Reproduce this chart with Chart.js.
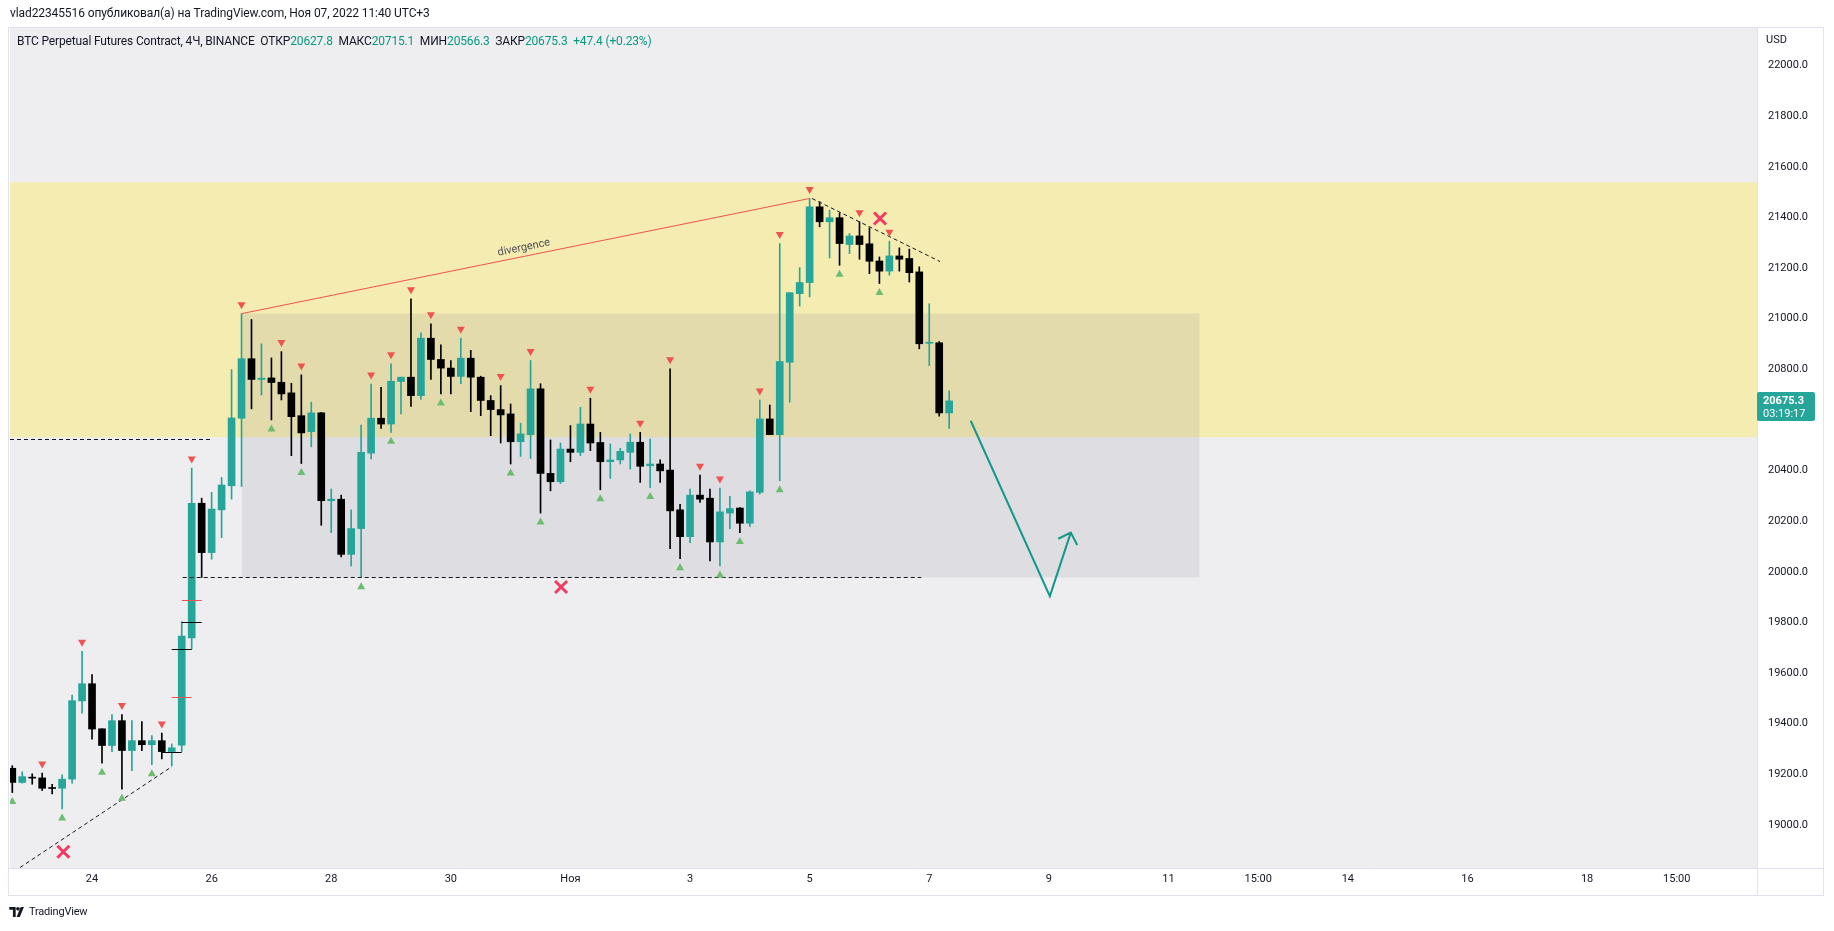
<!DOCTYPE html>
<html><head><meta charset="utf-8">
<script src="https://cdn.jsdelivr.net/npm/chart.js@4.4.0/dist/chart.umd.min.js"></script>
<style>
body{margin:0;background:#fff;font-family:Roboto,"Liberation Sans",sans-serif;}
#wrap{position:relative;width:1834px;height:931px;overflow:hidden}
canvas{position:absolute;left:0;top:0}
.t{position:absolute;white-space:pre;color:#131722;font-size:12px;line-height:14px}
.g{color:#089981}
#logo{display:flex;align-items:center;gap:3px;font-size:11px;letter-spacing:-0.2px}
</style></head><body>
<div id="wrap">
<canvas id="c" width="1834" height="931"></canvas>
<div class="t" style="left:10px;top:6px;letter-spacing:-0.1px">vlad22345516 опубликовал(а) на TradingView.com, Ноя 07, 2022 11:40 UTC+3</div>
<div class="t" id="hdr" style="left:17px;top:34px;letter-spacing:-0.15px"></div>
<div class="t" style="left:1766px;top:33px;font-size:11px">USD</div>
<div class="t" id="logo" style="left:9px;top:905px">
<svg width="17" height="11" viewBox="0 0 18 12"><path d="M0 0H7V11H4V3H0Z" fill="#131722"/><circle cx="9.5" cy="2" r="2" fill="#131722"/><path d="M8 11L12.5 0H16L11.5 11Z" fill="#131722"/></svg><span>TradingView</span></div>
</div>
<script>
// ---- candles (4h bars), index 0..94 ----
const open  = [19224,19168,19187,19186,19145,19145,19181,19490,19558,19380,19314,19412,19294,19333,19317,19333,19290,19315,19739,20271,
               20076,20245,20340,20607,20842,20760,20766,20749,20707,20617,20554,20628,20281,20287,20069,20171,20469,20607,20584,20752,
               20769,20696,20923,20839,20805,20772,20844,20769,20677,20641,20624,20514,20542,20723,20389,20356,20485,20472,20584,20511,
               20435,20442,20472,20512,20419,20426,20402,20245,20139,20303,20291,20118,20232,20252,20192,20314,20604,20542,20828,21099,
               21143,21442,21383,21399,21293,21327,21296,21228,21188,21248,21238,21185,20903,20905,20627.8];
const high  = [19234,19210,19202,19205,19161,19198,19513,19686,19594,19380,19436,19436,19412,19408,19353,19363,19320,19803,20410,20291,
               20314,20373,20799,21020,20997,20901,20845,20870,20745,20778,20670,20630,20327,20303,20245,20580,20742,20729,20822,20769,
               21079,20944,20980,20897,20835,20923,20875,20773,20696,20736,20663,20587,20835,20743,20521,20509,20578,20650,20686,20551,
               20505,20488,20545,20551,20525,20443,20802,20267,20327,20382,20327,20331,20298,20254,20320,20679,20659,21297,21103,21202,
               21475,21462,21429,21418,21337,21383,21359,21244,21306,21280,21275,21205,21059,20910,20715.1];
const low   = [19128,19165,19161,19136,19123,19063,19165,19442,19339,19244,19290,19141,19215,19294,19238,19261,19234,19290,19696,19978,
               20050,20135,20287,20337,20644,20699,20600,20679,20459,20428,20494,20184,20155,20059,20023,19977,20446,20567,20551,20624,
               20654,20681,20760,20703,20703,20743,20633,20617,20538,20509,20426,20456,20448,20232,20320,20349,20435,20459,20479,20324,
               20369,20426,20406,20353,20333,20353,20092,20052,20115,20274,20043,20023,20171,20155,20179,20307,20542,20360,20670,21050,
               21086,21363,21240,21211,21257,21235,21178,21139,21172,21188,21145,20881,20815,20615,20566.3];
const close = [19168,19191,19185,19145,19144,19181,19491,19558,19379,19314,19412,19294,19333,19317,19333,19290,19305,19746,20271,20076,
               20248,20343,20608,20842,20760,20765,20748,20703,20613,20549,20628,20281,20287,20069,20171,20472,20607,20584,20753,20769,
               20696,20923,20839,20805,20772,20844,20769,20677,20641,20620,20514,20545,20723,20389,20356,20485,20472,20584,20509,20435,
               20442,20476,20512,20417,20426,20399,20241,20139,20303,20287,20118,20237,20250,20192,20316,20604,20542,20831,21103,21143,
               21442,21383,21399,21297,21327,21293,21227,21188,21248,21235,21182,20901,20905,20627.9,20675.3];

// pivot markers (indicator): bar indices
const pivotHighIdx = [3,7,11,15,18,23,27,29,36,38,40,42,45,49,52,58,63,66,69,71,75,77,80,85,88];
const pivotLowIdx  = [0,5,9,11,14,26,29,35,38,43,50,53,59,64,67,71,73,77,83,87];

// axis ticks
const xTickIdx    = [8,20,32,44,56,68,80,92,104,116,125,134,146,158,167];
const xTickLabels = ['24','26','28','30','Ноя','3','5','7','9','11','15:00','14','16','18','15:00'];
const yTicks = [19000,19200,19400,19600,19800,20000,20200,20400,20800,21000,21200,21400,21600,21800,22000];

// drawings (bar index, price)
const supplyZone = [20532, 21539];
const rangeBoxX = [23.05, 119.1];
const rangeBoxY = [19978, 21020];
const dashedLines = [
  [[-0.23,20525],[20.1,20525]],
  [[17.1,19978],[91.2,19978]],
  [[0.78,18834],[16.03,19234]],
  [[80.24,21478],[93.08,21229]]
];
const divergenceLine = [[23,21020],[80,21475]];
const crossMarks = [[5.12,18894],[55.06,19940],[87.06,21396]];
const arrowPath = [[96.16,20597],[104.1,19904],[106.2,20155]];
const blackTicks = [[15,17,19290],[16,18,19696],[17,19,19803]];
const redTicks = [[16,18,19506],[17,19,19890]];
const countdown = '03:19:17';

const TEAL = '#26a69a', BLACK = '#000000';
const idx = open.map((_, i) => i);
const colors = idx.map(i => close[i] >= open[i] ? TEAL : BLACK);

// header
const last = open.length - 1;
const chg = close[last] - close[last-1];
document.getElementById('hdr').innerHTML =
  'BTC Perpetual Futures Contract, 4Ч, BINANCE  ОТКР<span class="g">' + open[last].toFixed(1) +
  '</span>  МАКС<span class="g">' + high[last].toFixed(1) + '</span>  МИН<span class="g">' + low[last].toFixed(1) +
  '</span>  ЗАКР<span class="g">' + close[last].toFixed(1) + '</span>  <span class="g">' +
  (chg >= 0 ? '+' : '') + chg.toFixed(1) + ' (' + (chg >= 0 ? '+' : '') + (chg / close[last-1] * 100).toFixed(2) + '%)</span>';

const PLOT_BG = '#eeeef1';
const FRAME = '#e0e3eb';

const overlay = {
  id: 'overlay',
  beforeDraw(chart) {
    const {ctx, chartArea: a} = chart;
    ctx.save();
    ctx.fillStyle = '#ffffff'; ctx.fillRect(0, 0, chart.width, chart.height);
    ctx.strokeStyle = FRAME; ctx.lineWidth = 1;
    ctx.strokeRect(8.5, a.top - 0.5, 1815, 895 - a.top + 1);
    ctx.fillStyle = PLOT_BG; ctx.fillRect(a.left, a.top, a.right - a.left, a.bottom - a.top);
    ctx.restore();
  },
  beforeDatasetsDraw(chart) {
    const {ctx, chartArea: a, scales: {x, y}} = chart;
    ctx.save();
    ctx.beginPath(); ctx.rect(a.left, a.top, a.right - a.left, a.bottom - a.top); ctx.clip();
    const yt = y.getPixelForValue(supplyZone[1]), yb = y.getPixelForValue(supplyZone[0]);
    ctx.fillStyle = '#f5ecb1'; ctx.fillRect(a.left, yt, a.right - a.left, yb - yt);
    const bx0 = x.getPixelForValue(rangeBoxX[0]), bx1 = x.getPixelForValue(rangeBoxX[1]);
    const by0 = y.getPixelForValue(rangeBoxY[1]), by1 = y.getPixelForValue(rangeBoxY[0]);
    ctx.fillStyle = 'rgba(120,123,134,0.14)'; ctx.fillRect(bx0, by0, bx1 - bx0, by1 - by0);
    ctx.restore();
  },
  afterDatasetsDraw(chart) {
    const {ctx, chartArea: a, scales: {x, y}} = chart;
    const P = p => [x.getPixelForValue(p[0]), y.getPixelForValue(p[1])];
    ctx.save();
    ctx.beginPath(); ctx.rect(a.left, a.top, a.right - a.left, a.bottom - a.top); ctx.clip();
    // indicator tick segments
    ctx.lineWidth = 1;
    [[blackTicks, '#000'], [redTicks, '#ef5350']].forEach(([arr, col]) => {
      ctx.strokeStyle = col;
      arr.forEach(([i0, i1, v]) => {
        const yy = Math.round(y.getPixelForValue(v)) + 0.5;
        ctx.beginPath(); ctx.moveTo(x.getPixelForValue(i0), yy); ctx.lineTo(x.getPixelForValue(i1), yy); ctx.stroke();
      });
    });
    // dashed lines
    ctx.strokeStyle = '#131722'; ctx.setLineDash([4, 3]);
    dashedLines.forEach(([p0, p1]) => {
      const A = P(p0), B = P(p1);
      ctx.beginPath(); ctx.moveTo(A[0], Math.round(A[1]) + 0.5); ctx.lineTo(B[0], Math.round(B[1]) + 0.5); ctx.stroke();
    });
    ctx.setLineDash([]);
    // divergence
    const D0 = P(divergenceLine[0]), D1 = P(divergenceLine[1]);
    ctx.strokeStyle = '#ef5350'; ctx.lineWidth = 1;
    ctx.beginPath(); ctx.moveTo(D0[0], D0[1]); ctx.lineTo(D1[0], D1[1]); ctx.stroke();
    const ang = Math.atan2(D1[1] - D0[1], D1[0] - D0[0]);
    ctx.save();
    ctx.translate((D0[0] + D1[0]) / 2, (D0[1] + D1[1]) / 2);
    ctx.rotate(ang);
    ctx.fillStyle = '#4c4f57'; ctx.font = '11px Roboto'; ctx.textAlign = 'center'; ctx.textBaseline = 'bottom';
    ctx.fillText('divergence', 0, -3);
    ctx.restore();
    // pivot triangles
    ctx.fillStyle = '#ef5350';
    pivotHighIdx.forEach(i => {
      const cx = x.getPixelForValue(i), cy = y.getPixelForValue(high[i]) - 8;
      ctx.beginPath(); ctx.moveTo(cx - 4, cy - 3.5); ctx.lineTo(cx + 4, cy - 3.5); ctx.lineTo(cx, cy + 3.5); ctx.closePath(); ctx.fill();
    });
    ctx.fillStyle = '#6cbd70';
    pivotLowIdx.forEach(i => {
      const cx = x.getPixelForValue(i), cy = y.getPixelForValue(low[i]) + 8;
      ctx.beginPath(); ctx.moveTo(cx - 4, cy + 3.5); ctx.lineTo(cx + 4, cy + 3.5); ctx.lineTo(cx, cy - 3.5); ctx.closePath(); ctx.fill();
    });
    // crosses
    ctx.strokeStyle = '#f23a62'; ctx.lineWidth = 3; ctx.lineCap = 'butt';
    crossMarks.forEach(p => {
      const [cx, cy] = P(p), r = 6;
      ctx.beginPath(); ctx.moveTo(cx - r, cy - r); ctx.lineTo(cx + r, cy + r);
      ctx.moveTo(cx + r, cy - r); ctx.lineTo(cx - r, cy + r); ctx.stroke();
    });
    // arrow
    ctx.strokeStyle = '#12998a'; ctx.lineWidth = 2; ctx.lineJoin = 'miter';
    const pts = arrowPath.map(P);
    ctx.beginPath(); ctx.moveTo(pts[0][0], pts[0][1]);
    pts.slice(1).forEach(p => ctx.lineTo(p[0], p[1])); ctx.stroke();
    const t = pts[pts.length - 1], s = pts[pts.length - 2];
    const back = Math.atan2(s[1] - t[1], s[0] - t[0]);
    ctx.beginPath();
    ctx.moveTo(t[0] + 14 * Math.cos(back - 0.8), t[1] + 14 * Math.sin(back - 0.8));
    ctx.lineTo(t[0], t[1]);
    ctx.lineTo(t[0] + 14 * Math.cos(back + 0.8), t[1] + 14 * Math.sin(back + 0.8));
    ctx.stroke();
    ctx.restore();
  },
  afterDraw(chart) {
    const {ctx, chartArea: a, scales: {y}} = chart;
    ctx.save();
    ctx.strokeStyle = FRAME; ctx.lineWidth = 1;
    ctx.beginPath();
    ctx.moveTo(a.right + 0.5, a.top); ctx.lineTo(a.right + 0.5, 895);
    ctx.moveTo(8, a.bottom + 0.5); ctx.lineTo(1823, a.bottom + 0.5);
    ctx.stroke();
    // last price label
    const cy = y.getPixelForValue(close[last]);
    ctx.fillStyle = TEAL;
    ctx.beginPath();
    ctx.roundRect ? ctx.roundRect(a.right, cy - 9, 58, 29, 2) : ctx.rect(a.right, cy - 9, 58, 29);
    ctx.fill();
    ctx.fillStyle = '#ffffff'; ctx.textAlign = 'left'; ctx.textBaseline = 'middle';
    ctx.font = 'bold 11px Roboto'; ctx.fillText(close[last].toFixed(1), a.right + 6, cy);
    ctx.font = '11px Roboto'; ctx.fillText(countdown, a.right + 6, cy + 13);
    ctx.restore();
  }
};

Chart.defaults.font.family = 'Roboto';
Chart.defaults.font.size = 11;
Chart.defaults.color = '#131722';

new Chart(document.getElementById('c'), {
  type: 'bar',
  data: {
    datasets: [
      { label: 'wick', data: idx.map(i => ({x: i, y: [low[i], high[i]]})), backgroundColor: colors,
        barThickness: 1, grouped: false, order: 1, minBarLength: 1 },
      { label: 'body', data: idx.map(i => ({x: i, y: [open[i], close[i]]})), backgroundColor: colors,
        barThickness: 7, grouped: false, order: 0, minBarLength: 1 }
    ]
  },
  options: {
    responsive: false, animation: false, events: [],
    layout: { padding: { left: 10, top: 28, right: 11, bottom: 36 } },
    plugins: { legend: { display: false }, tooltip: { enabled: false } },
    scales: {
      x: {
        type: 'linear', min: -0.23, max: 175.05, offset: false,
        grid: { display: false, drawTicks: false }, border: { display: false },
        afterBuildTicks: s => { s.ticks = xTickIdx.map(v => ({value: v})); },
        afterFit: s => { s.height = 27; },
        ticks: { autoSkip: false, maxRotation: 0, minRotation: 0, padding: 5,
                 callback: v => { const k = xTickIdx.indexOf(v); return k >= 0 ? xTickLabels[k] : ''; } }
      },
      y: {
        position: 'right', min: 18830, max: 22148.5,
        grid: { display: false, drawTicks: false }, border: { display: false },
        afterBuildTicks: s => { s.ticks = yTicks.map(v => ({value: v})); },
        afterFit: s => { s.width = 66; },
        ticks: { padding: 11, callback: v => v.toFixed(1) }
      }
    }
  },
  plugins: [overlay]
});
</script>
</body></html>
